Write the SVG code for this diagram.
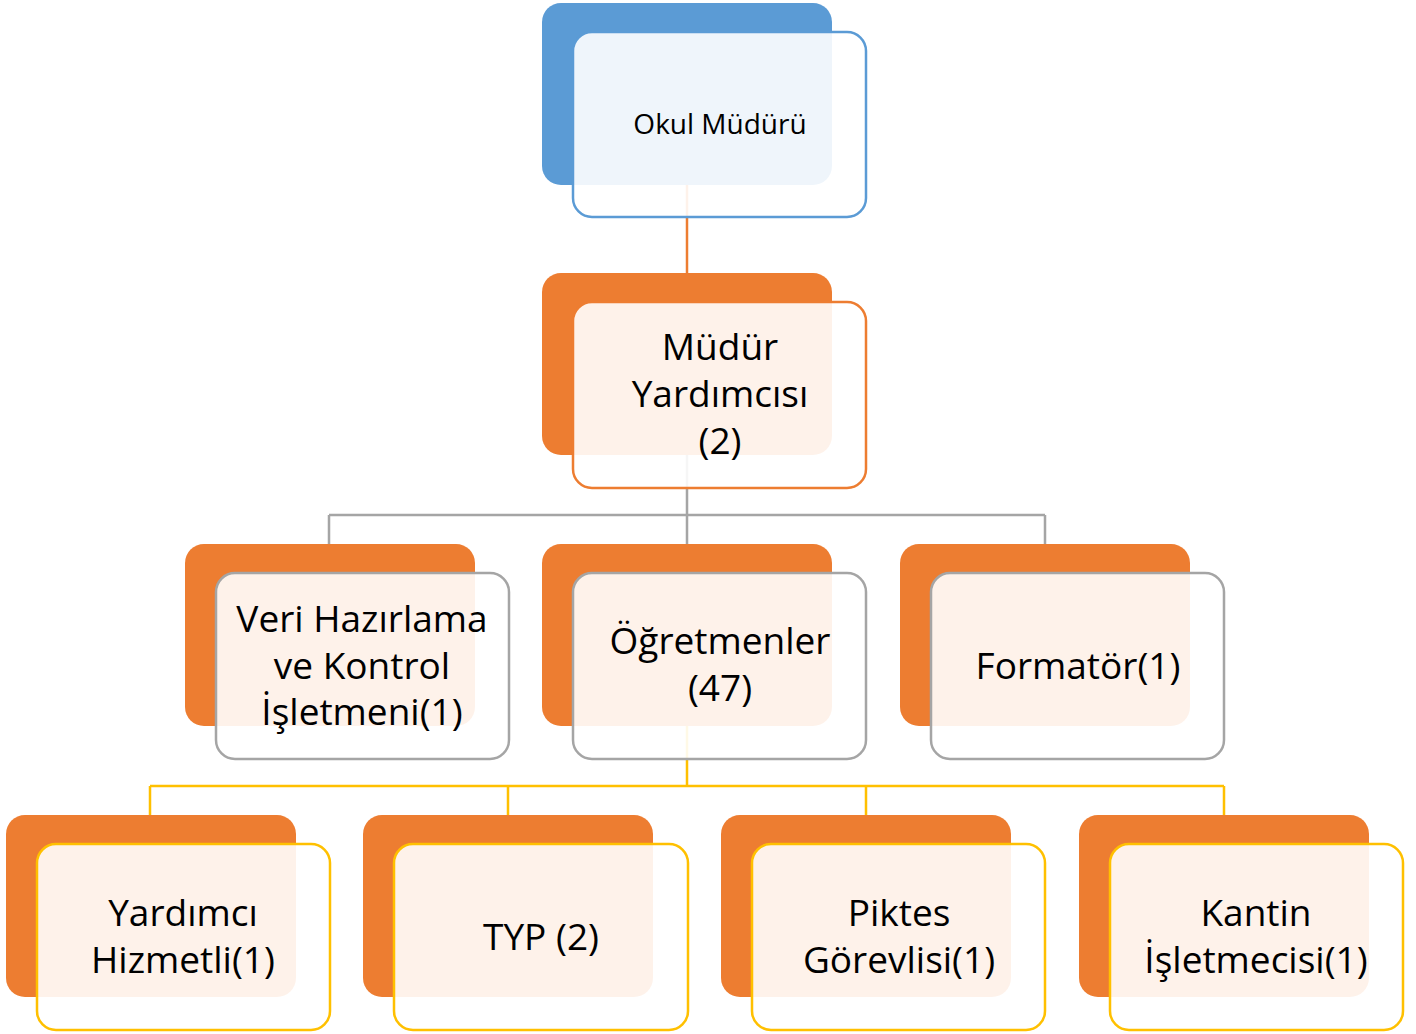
<svg xmlns="http://www.w3.org/2000/svg" width="1416" height="1034" viewBox="0 0 1416 1034">
<style>
.bg{fill:#ffffff}
.back{stroke:none}
.front{fill:#ffffff;fill-opacity:0.9;stroke-width:2.5}
.blue{fill:#5B9BD5}
.orange{fill:#ED7D31}
.sb{stroke:#5B9BD5}
.so{stroke:#ED7D31}
.sg{stroke:#A5A5A5}
.sy{stroke:#FFC000}
.conn{fill:none;stroke-width:2.5}
text{font-family:"Open Sans","Noto Sans","DejaVu Sans",sans-serif;font-size:37px;fill:#000000;text-anchor:middle}
.small{font-size:28px}
</style>
<rect class="bg" x="0" y="0" width="1416" height="1034"/>
<g id="connectors">
<path class="conn so" d="M687 185 V273"/>
<path class="conn sg" d="M687 455 V515 M329 515 H1045 M329 515 V544 M687 515 V544 M1045 515 V544"/>
<path class="conn sy" d="M687 726 V786 M150 786 H1224 M150 786 V815 M508 786 V815 M866 786 V815 M1224 786 V815"/>
</g>
<g id="okul-muduru">
<rect class="back blue" x="542" y="3" width="290" height="182" rx="19"/>
<rect class="front sb" x="573" y="32" width="293" height="185" rx="19"/>
<text class="small" x="720" y="134">Okul Müdürü</text>
</g>
<g id="mudur-yardimcisi">
<rect class="back orange" x="542" y="273" width="290" height="182" rx="19"/>
<rect class="front so" x="573" y="302" width="293" height="186" rx="19"/>
<text x="720" y="360">Müdür</text>
<text x="720" y="407">Yardımcısı</text>
<text x="720" y="454">(2)</text>
</g>
<g id="veri-hazirlama">
<rect class="back orange" x="185" y="544" width="290" height="182" rx="19"/>
<rect class="front sg" x="216" y="573" width="293" height="186" rx="19"/>
<text x="362" y="632">Veri Hazırlama</text>
<text x="362" y="679">ve Kontrol</text>
<text x="362" y="725">İşletmeni(1)</text>
</g>
<g id="ogretmenler">
<rect class="back orange" x="542" y="544" width="290" height="182" rx="19"/>
<rect class="front sg" x="573" y="573" width="293" height="186" rx="19"/>
<text x="720" y="654">Öğretmenler</text>
<text x="720" y="701">(47)</text>
</g>
<g id="formator">
<rect class="back orange" x="900" y="544" width="290" height="182" rx="19"/>
<rect class="front sg" x="931" y="573" width="293" height="186" rx="19"/>
<text x="1078" y="679">Formatör(1)</text>
</g>
<g id="yardimci-hizmetli">
<rect class="back orange" x="6" y="815" width="290" height="182" rx="19"/>
<rect class="front sy" x="37" y="844" width="293" height="186" rx="19"/>
<text x="183" y="926">Yardımcı</text>
<text x="183" y="973">Hizmetli(1)</text>
</g>
<g id="typ">
<rect class="back orange" x="363" y="815" width="290" height="182" rx="19"/>
<rect class="front sy" x="394" y="844" width="294" height="186" rx="19"/>
<text x="541" y="950">TYP (2)</text>
</g>
<g id="piktes">
<rect class="back orange" x="721" y="815" width="290" height="182" rx="19"/>
<rect class="front sy" x="752" y="844" width="293" height="186" rx="19"/>
<text x="899" y="926">Piktes</text>
<text x="899" y="973">Görevlisi(1)</text>
</g>
<g id="kantin">
<rect class="back orange" x="1079" y="815" width="290" height="182" rx="19"/>
<rect class="front sy" x="1110" y="844" width="293" height="186" rx="19"/>
<text x="1256" y="926">Kantin</text>
<text x="1256" y="973">İşletmecisi(1)</text>
</g>
</svg>
